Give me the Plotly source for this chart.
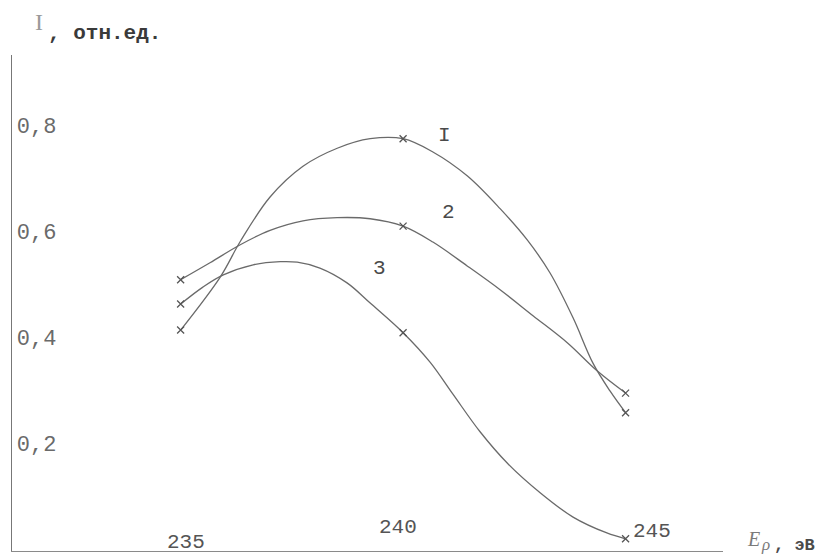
import plotly.graph_objects as go

# Axis ticks and labels
ENERGY_TICKS = [235, 240, 245]
ENERGY_LABELS = ["235", "240", "245"]
INTENSITY_TICKS = [0.2, 0.4, 0.6, 0.8]
INTENSITY_LABELS = ["0,2", "0,4", "0,6", "0,8"]

# Measured points (E_p, eV -> I, rel. units)
meas_e = [235, 240, 245]
meas_1 = [0.413, 0.774, 0.257]
meas_2 = [0.508, 0.609, 0.294]
meas_3 = [0.462, 0.408, 0.019]

# Smooth curves drawn through the measurements
curve1_e = [235.0, 235.89, 236.34, 237.01, 237.75, 238.52, 239.26, 240.0, 240.67,
            241.44, 242.18, 242.79, 243.3, 243.82, 244.27, 244.65, 245.0]
curve1_i = [0.413, 0.513, 0.580, 0.664, 0.722, 0.756, 0.774, 0.774, 0.749,
            0.704, 0.642, 0.583, 0.521, 0.436, 0.350, 0.298, 0.257]

curve2_e = [235.0, 235.66, 236.34, 237.01, 237.75, 238.52, 239.26, 240.0, 240.67,
            241.44, 242.18, 242.92, 243.69, 244.36, 245.0]
curve2_i = [0.508, 0.540, 0.574, 0.601, 0.619, 0.625, 0.623, 0.609, 0.579,
            0.534, 0.489, 0.440, 0.389, 0.336, 0.294]

curve3_e = [235.0, 235.5, 235.96, 236.63, 237.24, 237.62, 238.13, 238.74, 239.26,
            240.0, 240.61, 241.12, 241.73, 242.34, 243.08, 243.82, 244.58, 245.0]
curve3_i = [0.462, 0.494, 0.517, 0.536, 0.542, 0.541, 0.530, 0.502, 0.464,
            0.408, 0.352, 0.292, 0.221, 0.162, 0.106, 0.060, 0.030, 0.019]

curve_names = ["I", "2", "3"]
curve_label_pos = [(240.94, 0.781), (241.01, 0.634), (239.48, 0.530)]

INK = "#6a6a6a"
TEXT = "#4a4a4a"
MONO = "Liberation Mono, Courier New, monospace"
SERIF = "Liberation Serif, serif"

fig = go.Figure()

for e, i in [(curve1_e, curve1_i), (curve2_e, curve2_i), (curve3_e, curve3_i)]:
    fig.add_trace(go.Scatter(x=e, y=i, mode="lines",
                             line=dict(color=INK, width=1.3, shape="spline", smoothing=1.0),
                             hoverinfo="skip", showlegend=False))

for vals in (meas_1, meas_2, meas_3):
    fig.add_trace(go.Scatter(x=meas_e, y=vals, mode="markers",
                             marker=dict(symbol="x-thin", size=7,
                                         line=dict(color="#555555", width=1.3)),
                             showlegend=False))

# Curve numbers
for name, (xe, yi) in zip(curve_names, curve_label_pos):
    fig.add_annotation(x=xe, y=yi, text=name, showarrow=False,
                       font=dict(family=MONO, size=21, color=TEXT))

# Energy tick labels sit just above the axis line
x_shifts = [5, -5, 26]
y_shifts = [6, 21, 17]
for t, lab, dx, dy in zip(ENERGY_TICKS, ENERGY_LABELS, x_shifts, y_shifts):
    fig.add_annotation(x=t, y=0, text=lab, showarrow=False, xshift=dx, yshift=dy,
                       font=dict(family=MONO, size=21, color="#555555"))

# Axis titles
fig.add_annotation(xref="paper", yref="paper", x=0, y=1.0, xshift=27, yshift=33,
                   text="I", showarrow=False, xanchor="center", yanchor="middle",
                   font=dict(family=SERIF, size=24, color="#9a9a9a"))
fig.add_annotation(xref="paper", yref="paper", x=0, y=1.0, xshift=34, yshift=22,
                   text="<b>, отн.ед.</b>", showarrow=False, xanchor="left", yanchor="middle",
                   font=dict(family=MONO, size=21, color="#3a3a3a"))
fig.add_annotation(xref="paper", yref="paper", x=1.0, y=0, xshift=30, yshift=12,
                   text="<i>E</i>", showarrow=False, xanchor="center", yanchor="middle",
                   font=dict(family=SERIF, size=20, color="#7a7a7a"))
fig.add_annotation(xref="paper", yref="paper", x=1.0, y=0, xshift=42, yshift=7,
                   text="<i>ρ</i>", showarrow=False, xanchor="center", yanchor="middle",
                   font=dict(family=SERIF, size=17, color="#7a7a7a"))
fig.add_annotation(xref="paper", yref="paper", x=1.0, y=0, xshift=49, yshift=6,
                   text="<b>, эВ</b>", showarrow=False, xanchor="left", yanchor="middle",
                   font=dict(family=MONO, size=17, color="#4a4a4a"))

fig.update_xaxes(range=[231.21, 247.19], showgrid=False, zeroline=False,
                 showline=True, linecolor="#8a8a8a", linewidth=1.2,
                 showticklabels=False, ticks="")
fig.update_yaxes(range=[-0.004, 0.932], showgrid=False, zeroline=False,
                 showline=True, linecolor="#777777", linewidth=1.4,
                 tickvals=INTENSITY_TICKS, ticktext=INTENSITY_LABELS,
                 ticklabelposition="inside", ticks="", ticklabelstandoff=6,
                 tickfont=dict(family=MONO, size=22, color="#6a6a6a"))

fig.update_layout(width=822, height=556, margin=dict(l=12, r=99, t=55, b=5),
                  paper_bgcolor="white", plot_bgcolor="white")

fig.write_html("out.html")
